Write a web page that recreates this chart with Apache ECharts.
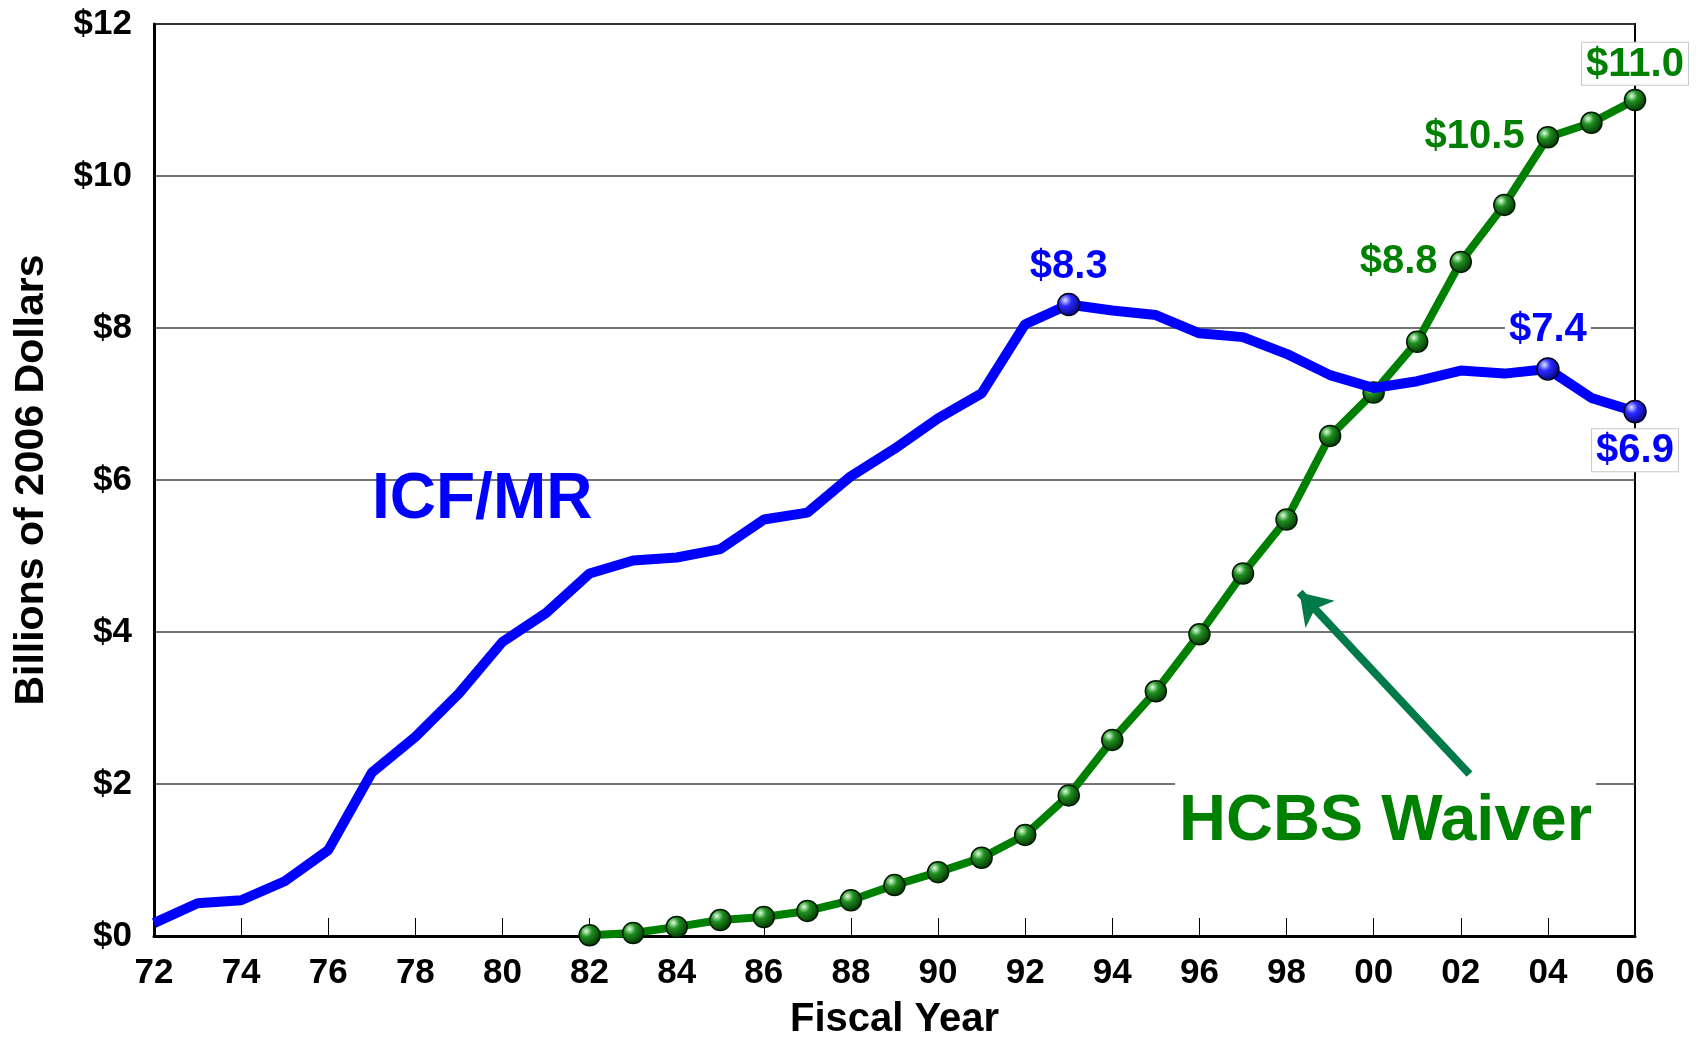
<!DOCTYPE html>
<html>
<head>
<meta charset="utf-8">
<script src="https://cdn.jsdelivr.net/npm/echarts@6/dist/echarts.min.js"></script>
<style>
  html, body { margin: 0; padding: 0; background: #fff; }
  #main { width: 1701px; height: 1037px; }
</style>
</head>
<body>
<div id="main"></div>
<script>
// fiscal years shown on the axis
var fiscalYears = [1972, 1973, 1974, 1975, 1976, 1977, 1978, 1979, 1980, 1981,
  1982, 1983, 1984, 1985, 1986, 1987, 1988, 1989, 1990, 1991,
  1992, 1993, 1994, 1995, 1996, 1997, 1998, 1999, 2000, 2001,
  2002, 2003, 2004, 2005, 2006];

// ICF/MR spending, billions of 2006 dollars, 1972-2006
var icfmr = [0.17, 0.43, 0.47, 0.72, 1.13, 2.15, 2.62, 3.19, 3.87, 4.25,
  4.77, 4.94, 4.98, 5.09, 5.48, 5.57, 6.05, 6.41, 6.81, 7.14,
  8.05, 8.31, 8.23, 8.17, 7.93, 7.88, 7.66, 7.38, 7.21, 7.30,
  7.44, 7.40, 7.46, 7.08, 6.90];

// HCBS Waiver spending, 1982-2006
var hcbsYears = [1982, 1983, 1984, 1985, 1986, 1987, 1988, 1989, 1990, 1991,
  1992, 1993, 1994, 1995, 1996, 1997, 1998, 1999, 2000, 2001,
  2002, 2003, 2004, 2005, 2006];
var hcbs = [0.01, 0.04, 0.12, 0.21, 0.25, 0.33, 0.47, 0.67, 0.84, 1.03,
  1.33, 1.85, 2.58, 3.22, 3.97, 4.77, 5.48, 6.58, 7.15, 7.82,
  8.87, 9.62, 10.51, 10.70, 11.00];

// value callouts
var icfCalloutYears = [1993, 2004, 2006];
var icfCalloutText = ['$8.3', '$7.4', '$6.9'];
var hcbsCalloutYears = [2002, 2004, 2006];
var hcbsCalloutText = ['$8.8', '$10.5', '$11.0'];

var BLUE = '#0000ff';
var GREEN = '#008000';
var FONT = '"Liberation Sans", Arial, sans-serif';

function ball(light, mid, dark) {
  return {
    type: 'radial', x: 0.35, y: 0.32, r: 0.75,
    colorStops: [
      { offset: 0, color: light },
      { offset: 0.35, color: mid },
      { offset: 1, color: dark }
    ]
  };
}

function calloutLabel(color, text, pos, dist, boxed) {
  return {
    show: true,
    position: pos,
    distance: dist,
    formatter: text,
    color: color,
    fontFamily: FONT,
    fontWeight: 'bold',
    fontSize: 40,
    backgroundColor: '#fff',
    padding: [2, 4, 0, 4],
    borderColor: boxed ? '#c8c8c8' : 'transparent',
    borderWidth: boxed ? 1 : 0
  };
}

var icfPos = { 1993: ['top', 6, false], 2004: ['top', 7, false], 2006: ['bottom', 6, true] };
var hcbsPos = { 2002: ['left', 8, false], 2004: ['left', 8, false], 2006: ['top', 4, true] };

var icfData = fiscalYears.map(function (y, i) {
  var k = icfCalloutYears.indexOf(y);
  if (k < 0) return { value: [y, icfmr[i]], symbolSize: 0 };
  var p = icfPos[y];
  return {
    value: [y, icfmr[i]],
    symbolSize: 22,
    label: calloutLabel(BLUE, icfCalloutText[k], p[0], p[1], p[2])
  };
});

var hcbsData = hcbsYears.map(function (y, i) {
  var k = hcbsCalloutYears.indexOf(y);
  var item = { value: [y, hcbs[i]] };
  if (k >= 0) {
    var p = hcbsPos[y];
    item.label = calloutLabel(GREEN, hcbsCalloutText[k], p[0], p[1], p[2]);
  }
  return item;
});

var chart = echarts.init(document.getElementById('main'), null, { renderer: 'canvas' });

var option = {
  backgroundColor: '#fff',
  animation: false,
  textStyle: { fontFamily: FONT },
  grid: {
    left: 154, right: 66, top: 24, bottom: 101,
    outerBoundsMode: 'none',
    containLabel: false,
    show: true, borderColor: '#000', borderWidth: 2, backgroundColor: 'transparent'
  },
  xAxis: {
    type: 'value',
    min: 1972, max: 2006, interval: 2,
    name: 'Fiscal Year',
    nameLocation: 'middle',
    nameGap: 64,
    nameTextStyle: { color: '#000', fontSize: 40, fontWeight: 'bold', fontFamily: FONT },
    axisLine: { lineStyle: { color: '#000', width: 3 } },
    axisTick: { show: true, inside: true, length: 18, lineStyle: { color: '#000', width: 1 } },
    axisLabel: {
      color: '#000', fontSize: 35, fontWeight: 'bold', fontFamily: FONT, margin: 20,
      formatter: function (v) { return String(v).slice(2); }
    },
    splitLine: { show: false }
  },
  yAxis: {
    type: 'value',
    min: 0, max: 12, interval: 2,
    name: 'Billions of 2006 Dollars',
    nameLocation: 'middle',
    nameGap: 102,
    nameTextStyle: { color: '#000', fontSize: 41, fontWeight: 'bold', fontFamily: FONT },
    axisLine: { show: true, lineStyle: { color: '#000', width: 3 } },
    axisTick: { show: false },
    axisLabel: {
      color: '#000', fontSize: 35, fontWeight: 'bold', fontFamily: FONT, margin: 22,
      formatter: function (v) { return '$' + v; }
    },
    splitLine: { show: true, lineStyle: { color: '#444', width: 1.5 } }
  },
  series: [
    {
      name: 'HCBS Waiver',
      type: 'line',
      data: hcbsData,
      symbol: 'circle',
      symbolSize: 21,
      lineStyle: { color: GREEN, width: 8 },
      itemStyle: {
        color: ball('#e0ffe0', '#1f8f1f', '#002a00'),
        borderColor: '#001a00', borderWidth: 1.5
      },
      z: 3,
      markLine: {
        silent: true,
        symbol: ['none', 'arrow'],
        symbolSize: [30, 30],
        label: { show: false },
        lineStyle: { color: '#007a48', width: 8, type: 'solid' },
        data: [[{ coord: [2002.2, 2.13] }, { coord: [1998.3, 4.52] }]]
      }
    },
    {
      name: 'ICF/MR',
      type: 'line',
      data: icfData,
      symbol: 'circle',
      showAllSymbol: true,
      lineStyle: { color: BLUE, width: 10 },
      itemStyle: {
        color: ball('#e0e0ff', '#2a2aff', '#000070'),
        borderColor: '#00001a', borderWidth: 1.5
      },
      z: 4
    }
  ],
  graphic: [
    {
      type: 'text',
      left: 372, top: 468,
      z: 10,
      style: {
        text: 'ICF/MR',
        fill: BLUE,
        font: 'bold 64px ' + FONT
      }
    },
    {
      type: 'text',
      left: 1175, top: 778,
      z: 10,
      style: {
        text: 'HCBS Waiver',
        fill: GREEN,
        font: 'bold 65px ' + FONT,
        backgroundColor: '#fff',
        padding: [12, 4, 4, 4]
      }
    }
  ]
};

chart.setOption(option);
</script>
</body>
</html>
